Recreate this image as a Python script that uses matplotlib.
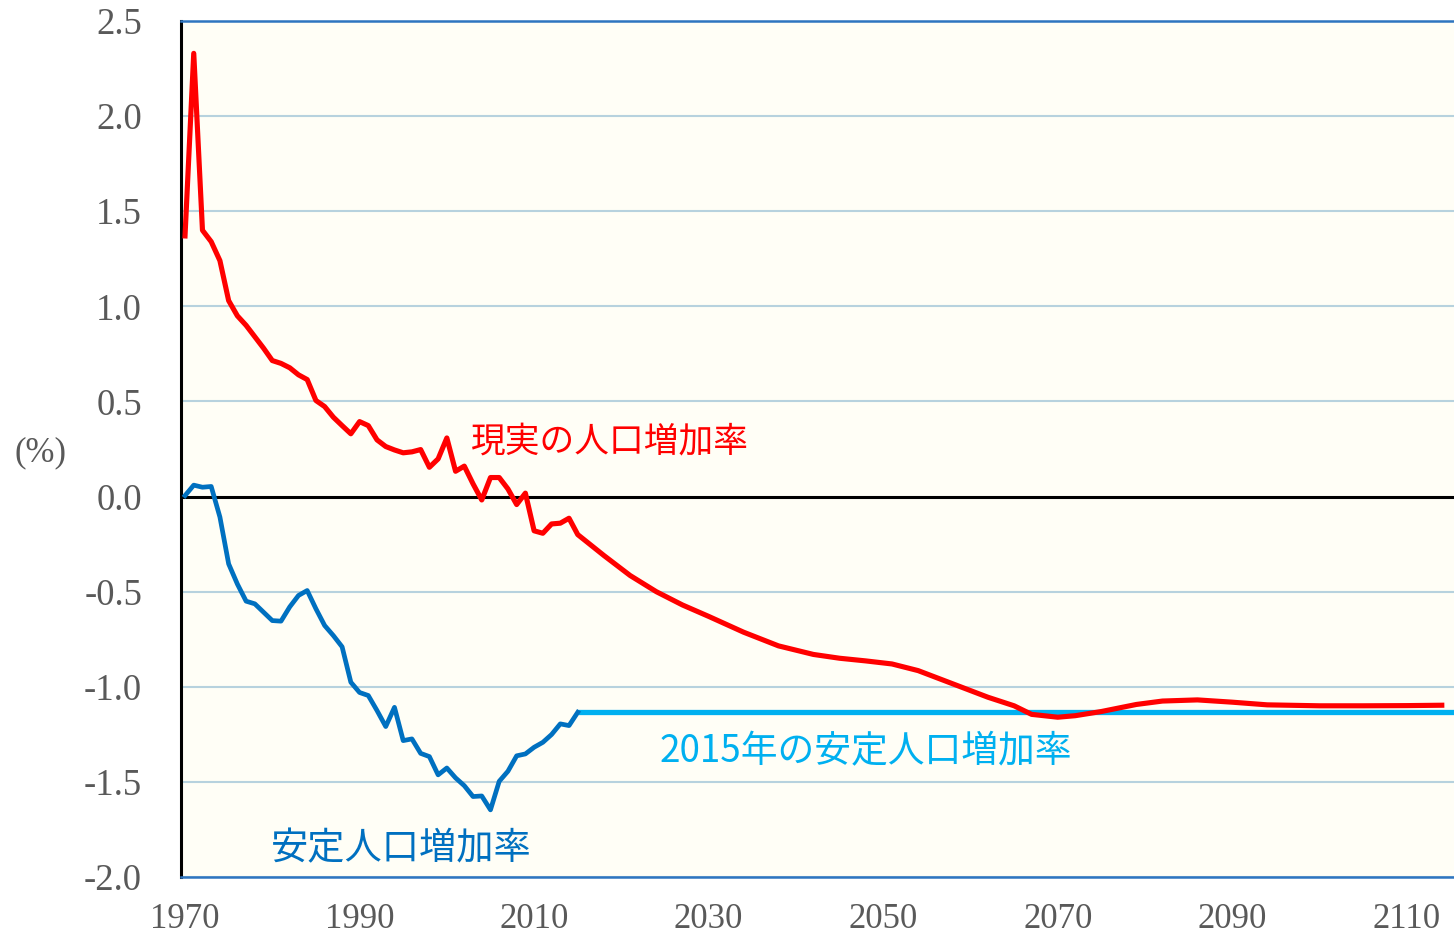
import matplotlib
matplotlib.use("Agg")
import matplotlib.pyplot as plt
from matplotlib.ticker import FuncFormatter

plt.rcParams['axes.unicode_minus'] = False

# Actual population growth rate (%), annual 1970-2015
actual_years = list(range(1970, 2016))
actual_values = [1.37, 2.33, 1.40, 1.34, 1.24, 1.03, 0.95, 0.90, 0.84, 0.78,
                 0.715, 0.70, 0.677, 0.64, 0.615, 0.505, 0.473, 0.417, 0.373, 0.33,
                 0.394, 0.373, 0.298, 0.263, 0.245, 0.23, 0.235, 0.247, 0.154, 0.198,
                 0.308, 0.133, 0.16, 0.067, -0.018, 0.10, 0.10, 0.04, -0.042, 0.018,
                 -0.18, -0.193, -0.144, -0.14, -0.114, -0.20]
# Projection of the actual rate
proj_years = [2018, 2021, 2024, 2027, 2030, 2034, 2038, 2042, 2045, 2048,
              2051, 2054, 2058, 2062, 2065, 2067, 2070, 2072, 2075, 2079,
              2082, 2086, 2090, 2094, 2100, 2105, 2110, 2114]
proj_values = [-0.31, -0.415, -0.50, -0.57, -0.63, -0.713, -0.785, -0.83, -0.85, -0.864,
               -0.88, -0.915, -0.985, -1.055, -1.10, -1.145, -1.16, -1.152, -1.13, -1.093,
               -1.075, -1.069, -1.081, -1.095, -1.10, -1.10, -1.099, -1.097]

# Stable population growth rate (%), annual 1970-2015
stable_years = list(range(1970, 2016))
stable_values = [0.005, 0.06, 0.049, 0.053, -0.108, -0.354, -0.46, -0.55, -0.564, -0.608,
                 -0.652, -0.655, -0.58, -0.52, -0.494, -0.59, -0.678, -0.731, -0.79, -0.976,
                 -1.03, -1.046, -1.125, -1.209, -1.108, -1.283, -1.274, -1.35, -1.367, -1.463,
                 -1.427, -1.479, -1.52, -1.577, -1.574, -1.647, -1.497, -1.444, -1.363, -1.353,
                 -1.318, -1.292, -1.251, -1.195, -1.204, -1.134]

# 2015 stable rate held constant
const_years = [2015, 2116]
const_values = [-1.13, -1.13]

x_ticks = [1970, 1990, 2010, 2030, 2050, 2070, 2090, 2110]
y_ticks = [-2.0, -1.5, -1.0, -0.5, 0.0, 0.5, 1.0, 1.5, 2.0, 2.5]

label_actual = "現実の人口増加率"
label_const = "2015年の安定人口増加率"
label_stable = "安定人口増加率"

RED = "#FF0000"
BLUE = "#0070C0"
CYAN = "#00B0F0"
GRAY = "#595959"

fig = plt.figure(figsize=(14.54, 9.36), dpi=100)
ax = fig.add_axes([181/1454, 1-877/936, 1-181/1454, (877-21)/936])
ax.set_facecolor("#FFFEF6")

for y in y_ticks:
    if y != 0.0:
        ax.axhline(y, color="#B7D2DE", lw=1.5, zorder=1)
ax.axhline(0.0, color="black", lw=2.2, zorder=2)

ax.plot(const_years, const_values, color=CYAN, lw=3.8, zorder=3, solid_capstyle='butt')
ax.plot(stable_years, stable_values, color=BLUE, lw=3.4, zorder=4)
ax.plot(actual_years + proj_years, actual_values + proj_values, color=RED, lw=3.7, zorder=5,
        solid_joinstyle='round')

ax.set_xlim(1969.54, 2115.4)
ax.set_ylim(-2.0, 2.5)
ax.set_xticks(x_ticks)
ax.set_yticks(y_ticks)
ax.yaxis.set_major_formatter(FuncFormatter(lambda v, p: f"{v:.1f}"))
ax.tick_params(axis='both', length=0, labelcolor=GRAY)
ax.tick_params(axis='x', labelsize=25, pad=19)
ax.tick_params(axis='y', labelsize=26.5, pad=28)
for lab in ax.get_xticklabels() + ax.get_yticklabels():
    lab.set_family("Liberation Serif")

ax.spines['left'].set_color("black")
ax.spines['left'].set_linewidth(2.2)
ax.spines['top'].set_color("#2E75C0")
ax.spines['top'].set_linewidth(1.8)
ax.spines['bottom'].set_color("#2E75C0")
ax.spines['bottom'].set_linewidth(1.8)
ax.spines['right'].set_visible(False)

cjk = ["Noto Sans CJK JP", "DejaVu Sans"]
ax.text(2002.8, 0.285, label_actual, color=RED, fontsize=25, family=cjk, ha='left', va='center', zorder=6)
ax.text(2024.4, -1.34, label_const, color=CYAN, fontsize=26.5, family=cjk, ha='left', va='center', zorder=6)
ax.text(1979.85, -1.85, label_stable, color=BLUE, fontsize=26.8, family=cjk, ha='left', va='center', zorder=6)

fig.text(40/1454, 1-453/936, "(%)", color=GRAY, fontsize=25, family="Liberation Serif",
         ha='center', va='center')

fig.savefig("out.png", dpi=100, facecolor="white")
